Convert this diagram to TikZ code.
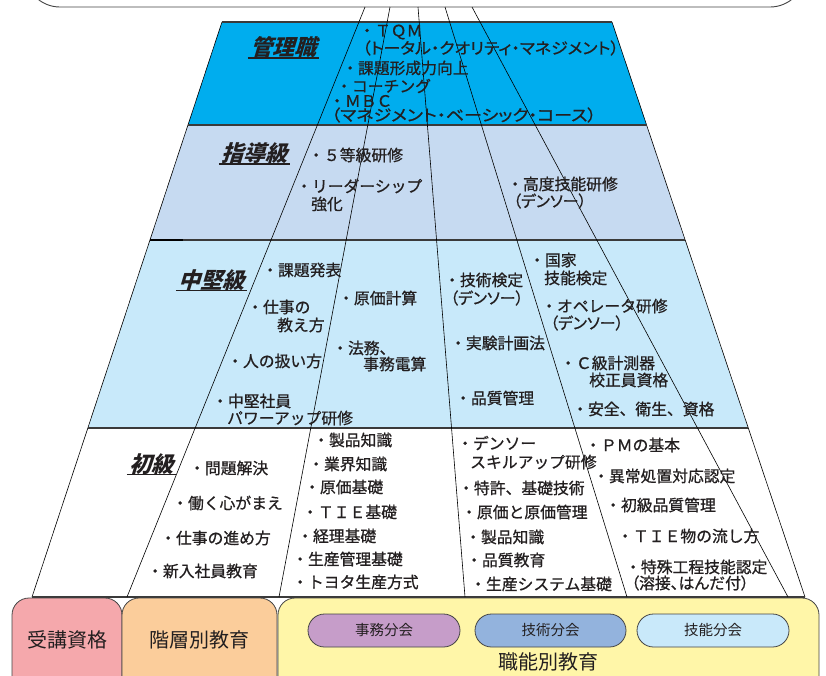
\documentclass[tikz,border=0pt]{standalone}
\usepackage{graphicx}
\usepackage{fontspec}
\setmainfont{Noto Sans CJK JP}
\newfontfamily\jpb[FakeBold=0.8]{Noto Sans CJK JP}
\newfontfamily\jpp[RawFeature=+palt,FakeBold=0.8]{Noto Sans CJK JP}
\newfontfamily\jphead[FakeSlant=0.3]{Noto Sans CJK JP}
\definecolor{ink}{HTML}{231F20}
\definecolor{bandA}{HTML}{00ADEE}
\definecolor{bandB}{HTML}{C6DAF1}
\definecolor{bandC}{HTML}{C8E9FA}
\definecolor{sepgray}{HTML}{3A3A3A}
\definecolor{boxline}{HTML}{444444}
\definecolor{pinkbox}{HTML}{F5A8AC}
\definecolor{orangebox}{HTML}{FBCD9B}
\definecolor{yellowbox}{HTML}{FFF6A8}
\definecolor{pillA}{HTML}{C69DC9}
\definecolor{pillB}{HTML}{93B3DD}
\definecolor{pillC}{HTML}{C9E9FA}
\tikzset{
  txt/.style={anchor=west, inner sep=0pt, text=ink, font=\jpb\fontsize{15.8}{16}\selectfont},
  ptxt/.style={anchor=west, inner sep=0pt, text=ink, font=\jpp\fontsize{15.8}{16}\selectfont},
  head/.style={inner sep=0pt, text=ink, font=\jphead\bfseries\fontsize{22}{22}\selectfont},
  uline/.style={draw=ink, line width=1.6pt},
  sepline/.style={draw=sepgray, line width=1.3pt},
  edge/.style={draw=black, line width=0.6pt},
  fan/.style={draw=black, line width=0.6pt},
  lowbox/.style={draw=boxline, line width=0.8pt, rounded corners=17pt},
  lab/.style={inner sep=0pt, text=ink, font=\fontsize{20}{20}\selectfont},
  pill/.style={draw=boxline, line width=0.8pt, rounded corners=16.5pt, minimum height=33pt, inner sep=0pt, text=ink, font=\fontsize{14.5}{15}\selectfont},
}
\begin{document}
\begin{tikzpicture}[x=1pt, y=-1pt]
\useasboundingbox (0,0) rectangle (826,675);
\begin{scope}
\clip (0,0) rectangle (826,675);
% top box
\draw[draw=boxline, line width=0.9pt, fill=white, rounded corners=35pt] (25,-60) rectangle (805,7);
% band corners
\coordinate (L0) at (222,22);  \coordinate (R0) at (612,22);
\coordinate (L1) at (188,125); \coordinate (R1) at (646.6,125);
\coordinate (L2) at (150,240); \coordinate (R2) at (685,240);
\coordinate (L3) at (88,428);  \coordinate (R3) at (748,428);
\coordinate (L4) at (32,597);  \coordinate (R4) at (805,597);
\fill[bandA] (L0) -- (R0) -- (R1) -- (L1) -- cycle;
\fill[bandB] (L1) -- (R1) -- (R2) -- (L2) -- cycle;
\fill[bandC] (L2) -- (R2) -- (R3) -- (L3) -- cycle;
\fill[white] (L3) -- (R3) -- (R4) -- (L4) -- cycle;
\draw[edge] (L0) -- (L4);
\draw[edge] (R0) -- (R4);
\draw[sepline] (L0) -- (R0);
\draw[sepline] (L1) -- (R1);
\draw[sepline] (L2) -- (R2);
\draw[sepline] (L3) -- (R3);
\draw[sepline] (L4) -- (R4);
\coordinate (S1) at (183,240);
\draw[draw=black, line width=2pt] (L2) -- (S1);
% fan lines
\coordinate (t1) at (365,7);  \coordinate (b1) at (127,597);
\coordinate (t2) at (390,7);  \coordinate (b2) at (279,597);
\coordinate (t3) at (418,7);  \coordinate (b3) at (465,597);
\coordinate (t4) at (445,7);  \coordinate (b4) at (627,597);
\coordinate (t5) at (472,7);  \coordinate (b5) at (788,597);
\draw[fan] (t1) -- (b1);
\draw[fan] (t2) -- (b2);
\draw[fan] (t3) -- (b3);
\draw[fan] (t4) -- (b4);
\draw[fan] (t5) -- (b5);
% headings
\node[head] (h1) at (283,47) {管理職};
\node[head] (h2) at (254,153) {指導級};
\node[head] (h3) at (211,280) {中堅級};
\node[head] (h4) at (151,464) {初級};
\draw[uline] ([xshift=-2pt]h1.south west) -- ([xshift=3pt]h1.south east);
\draw[uline] ([xshift=-2pt]h2.south west) -- ([xshift=3pt]h2.south east);
\draw[uline] ([xshift=-2pt]h3.south west) -- ([xshift=3pt]h3.south east);
\draw[uline] ([xshift=-2pt]h4.south west) -- ([xshift=3pt]h4.south east);
% 管理職
\node[txt] (a1) at (359,32) {・ＴＱＭ};
\node[ptxt] (a2) at (362,48) {\scalebox{1.07}[1]{（トータル・クオリティ・マネジメント）}};
\node[txt] (a3) at (342,68) {・課題形成力向上};
\node[txt] (a4) at (336,86) {・コーチング};
\node[txt] (a5) at (329,101) {・ＭＢＣ};
\node[ptxt] (a6) at (331,115) {\scalebox{1.14}[1]{（マネジメント・ベーシック・コース）}};
% 指導級
\node[txt] (b1n) at (308,155) {・５等級研修};
\node[txt] (b2n) at (296,186) {・リーダーシップ};
\node[txt] (b3n) at (311,204) {強化};
\node[txt] (b4n) at (507,184) {・高度技能研修};
\node[ptxt] (b5n) at (513,201) {（デンソー）};
% 中堅級
\node[txt] (c1) at (262,270) {・課題発表};
\node[txt] (c2) at (247,307) {・仕事の};
\node[txt] (c3) at (277,325) {教え方};
\node[txt] (c4) at (227,361) {・人の扱い方};
\node[txt] (c5) at (212,401) {・中堅社員};
\node[txt] (c6) at (227,418) {パワーアップ研修};
\node[txt] (c7) at (338,298) {・原価計算};
\node[txt] (c8) at (332,348) {・法務、};
\node[txt] (c9) at (363,364) {事務電算};
\node[txt] (c10) at (444,280) {・技術検定};
\node[ptxt] (c11) at (450,298) {（デンソー）};
\node[txt] (c12) at (450,343) {・実験計画法};
\node[txt] (c13) at (455,398) {・品質管理};
\node[txt] (c14) at (529,260) {・国家};
\node[txt] (c15) at (544,278) {技能検定};
\node[txt] (c16) at (541,306) {・オペレータ研修};
\node[ptxt] (c17) at (550,323) {（デンソー）};
\node[txt] (c18) at (560,363) {・Ｃ級計測器};
\node[txt] (c19) at (589,380) {校正員資格};
\node[txt] (c20) at (572,409) {・安全、衛生、資格};
% 初級
\node[txt] (d1) at (189,468) {・問題解決};
\node[txt] (d2) at (172,503) {・働く心がまえ};
\node[txt] (d3) at (160,538) {・仕事の進め方};
\node[txt] (d4) at (147,571) {・新入社員教育};
\node[txt] (d5) at (313,440) {・製品知識};
\node[txt] (d6) at (308,464) {・業界知識};
\node[txt] (d7) at (304,487) {・原価基礎};
\node[txt] (d8) at (302,512) {・ＴＩＥ基礎};
\node[txt] (d9) at (297,536) {・経理基礎};
\node[txt] (d10) at (292,559) {・生産管理基礎};
\node[txt] (d11) at (292,582) {・トヨタ生産方式};
\node[txt] (d12) at (457,443) {・デンソー};
\node[txt] (d13) at (470,462) {スキルアップ研修};
\node[txt] (d14) at (458,488) {・特許、基礎技術};
\node[txt] (d15) at (461,512) {・原価と原価管理};
\node[txt] (d16) at (465,537) {・製品知識};
\node[txt] (d17) at (466,560) {・品質教育};
\node[txt] (d18) at (470,584) {・生産システム基礎};
\node[txt] (d19) at (585,445) {・ＰＭの基本};
\node[txt] (d20) at (593,476) {・異常処置対応認定};
\node[txt] (d21) at (605,505) {・初級品質管理};
\node[txt] (d22) at (617,536) {・ＴＩＥ物の流し方};
\node[txt] (d23) at (625,567) {・特殊工程技能認定};
\node[ptxt] (d24) at (631,583) {（溶接、はんだ付）};
% bottom boxes
\draw[lowbox, fill=pinkbox] (12,598) rectangle (122,720);
\draw[lowbox, fill=orangebox] (122,598) rectangle (277,720);
\draw[lowbox, fill=yellowbox] (278,598) rectangle (819,720);
\node[lab] (e1) at (67,640) {受講資格};
\node[lab] (e2) at (199,640) {階層別教育};
\node[lab] (e3) at (548,662) {職能別教育};
\node[pill, fill=pillA, minimum width=152pt] (p1) at (384,630.5) {事務分会};
\node[pill, fill=pillB, minimum width=151pt] (p2) at (550.5,630.5) {技術分会};
\node[pill, fill=pillC, minimum width=152pt] (p3) at (713,630.5) {技能分会};
\end{scope}
\end{tikzpicture}
\end{document}
